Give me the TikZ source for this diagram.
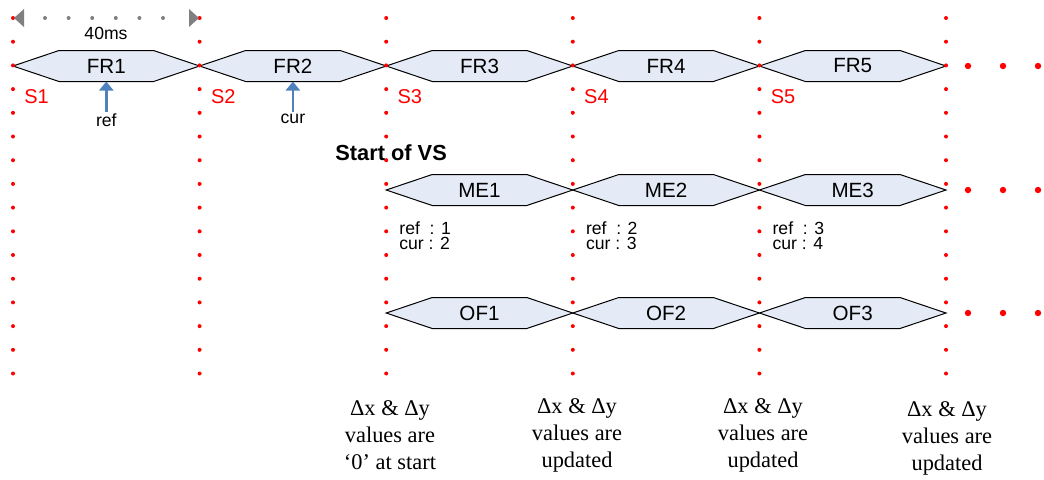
\documentclass[tikz,border=0pt]{standalone}
\usepackage{fontspec}
\setmainfont{Liberation Sans}
\newfontfamily\notefont{Liberation Serif}
\usetikzlibrary{arrows.meta}

\definecolor{hexfill}{RGB}{228,234,246}
\definecolor{refblue}{RGB}{79,129,189}

\tikzset{
  hexbox/.style={draw=black,fill=hexfill,line width=0.5pt},
  hexlabel/.style={font=\fontsize{10.3}{12}\selectfont},
  slabel/.style={anchor=west,inner sep=0pt,text=red,font=\fontsize{10}{12}\selectfont},
  smalltext/.style={inner sep=1pt,font=\fontsize{8.8}{10}\selectfont},
  menote/.style={anchor=west,inner sep=0pt,align=left,font=\fontsize{8.8}{7.5}\selectfont},
  dxnote/.style={align=center,inner sep=0pt,font=\notefont\fontsize{11.2}{13.5}\selectfont}
}

\begin{document}
\begin{tikzpicture}[x=0.5pt,y=-0.5pt,>={Triangle[length=4.5pt,width=7pt]}]
\useasboundingbox (0,0) rectangle (1044,479);

\def\gap{186.6}
\def\half{15.5}
\def\inset{46}

% frames, motion estimation, optical flow
\foreach \row/\y/\first/\last in {FR/66/0/5,ME/190/2/3,OF/313/2/3}{
  \foreach \n in {1,...,\last}{
    \pgfmathsetmacro{\xa}{13+\gap*(\first+\n-1)}
    \pgfmathsetmacro{\xb}{\xa+\gap}
    \draw[hexbox] (\xa,\y) -- (\xa+\inset,\y-\half) -- (\xb-\inset,\y-\half)
      -- (\xb,\y) -- (\xb-\inset,\y+\half) -- (\xa+\inset,\y+\half) -- cycle;
    \node[hexlabel] (\row\n) at ({(\xa+\xb)/2},\y) {\row\n};
    \coordinate (\row\n-south) at ({(\xa+\xb)/2},\y+\half);
  }
  \foreach \d in {968,1003,1038}
    \fill[red] (\d,\y) circle[radius=3.2];
}

% red time columns
\foreach \c in {0,...,5}{
  \foreach \k in {0,...,15}
    \fill[red] ({13+\gap*\c},{18+23.7*\k}) circle[radius=2];
}

\foreach \n in {1,...,5}
  \node[slabel] (S\n) at ({24+\gap*(\n-1)},97) {S\n};

% 40ms span
\coordinate (spanL) at (14,18);
\coordinate (spanR) at (199,18);
\foreach \g in {0,...,5}
  \fill[gray] ({45+23.6*\g},18) circle[radius=2];
\fill[gray] (spanL) -- ++(10,-9) -- ++(0,18) -- cycle;
\fill[gray] (spanR) -- ++(-10,-9) -- ++(0,18) -- cycle;
\node[smalltext] (span) at (106,33) {40ms};

% reference and current frame
\node[smalltext,anchor=north] (reflbl) at ([yshift=-15pt]FR1-south) {ref};
\node[smalltext,anchor=north] (curlbl) at ([yshift=-15pt]FR2-south) {cur};
\draw[->,refblue,line width=1.3pt] (reflbl.north) -- (FR1-south);
\draw[->,refblue,line width=1.3pt] (curlbl.north) -- (FR2-south);

\node[anchor=west,inner sep=0pt,font=\bfseries\fontsize{10.9}{13}\selectfont]
  (vsstart) at (335,153) {Start of VS};

\foreach \c/\r in {2/1,3/2,4/3}{
  \pgfmathtruncatemacro{\cu}{\r+1}
  \node[menote] (note\r) at ({399+\gap*(\c-2)},236) {ref~~: \r\\cur : \cu};
}

% delta notes
\node[dxnote] (dx3) at (390,435) {Δx \& Δy\\values are\\‘0’ at start};
\node[dxnote] (dx4) at (577,435) {Δx \& Δy\\values are\\updated};
\node[dxnote] (dx5) at (763,435) {Δx \& Δy\\values are\\updated};
\node[dxnote] (dx6) at (947,438) {Δx \& Δy\\values are\\updated};

\end{tikzpicture}
\end{document}
